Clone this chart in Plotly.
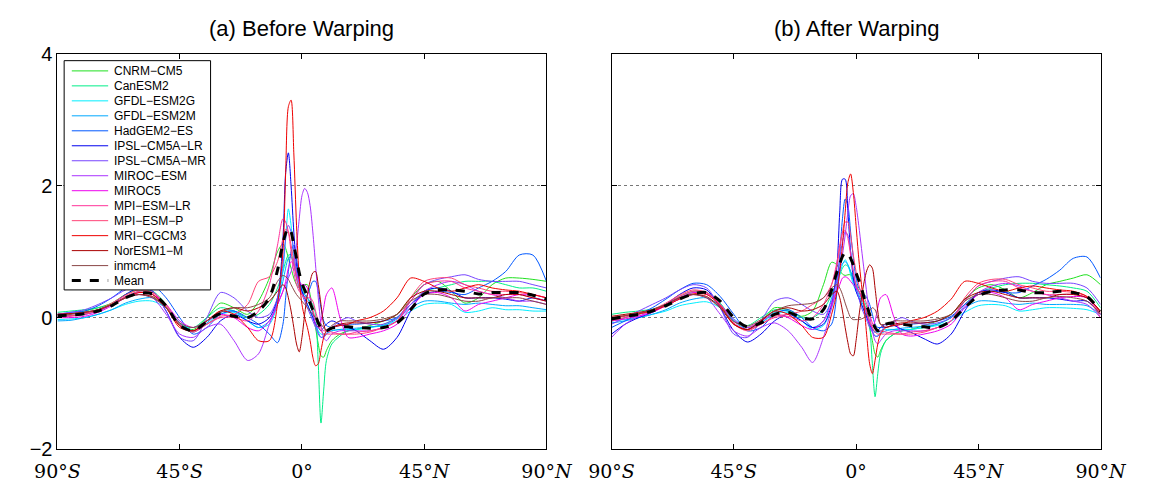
import plotly.graph_objects as go

# latitude grid (degrees)
lat = [-90, -85, -80, -75, -70, -65, -60, -55, -50, -45, -40, -35, -30, -25, -20,
       -16, -12, -9, -7, -6, -5, -4, -3, -2, -1, 0, 1, 2, 3, 4, 5, 6, 7, 8, 9, 11, 14, 17, 20,
       25, 30, 35, 40, 45, 50, 55, 60, 65, 70, 75, 80, 85, 90]

model_names = ["CNRM\u2212CM5", "CanESM2", "GFDL\u2212ESM2G", "GFDL\u2212ESM2M", "HadGEM2\u2212ES",
               "IPSL\u2212CM5A\u2212LR", "IPSL\u2212CM5A\u2212MR", "MIROC\u2212ESM", "MIROC5",
               "MPI\u2212ESM\u2212LR", "MPI\u2212ESM\u2212P", "MRI\u2212CGCM3", "NorESM1\u2212M", "inmcm4"]
model_colors = ["#1fe01f", "#00ee88", "#00eeff", "#00a8ff", "#0058ff", "#0000ee", "#7744ff",
                "#aa33ff", "#ee00ee", "#ff3399", "#ff4477", "#ee0000", "#aa0000", "#8a4646"]

# ---------------- (a) Before warping ----------------
cnrm_b = [0.05, 0.06, 0.10, 0.15, 0.22, 0.35, 0.42, 0.35, 0.15, -0.10, -0.18, 0.00, 0.22, 0.15, 0.05,
          0.25, 0.60, 1.00, 1.12, 1.05, 0.90, 0.75, 0.60, 0.50, 0.45, 0.45, 0.50, 0.50, 0.35, 0.10, -0.15, -0.40, -0.58, -0.60, -0.50, -0.35, -0.25, -0.20, -0.18,
          -0.12, -0.05, 0.05, 0.30, 0.50, 0.55, 0.40, 0.22, 0.30, 0.50, 0.60, 0.60, 0.58, 0.55]
canesm_b = [0.08, 0.10, 0.12, 0.15, 0.20, 0.30, 0.40, 0.40, 0.20, -0.10, -0.15, 0.00, 0.15, 0.10, 0.00,
            0.05, 0.20, 0.45, 0.70, 0.85, 0.95, 0.95, 0.85, 0.70, 0.55, 0.45, 0.35, 0.30, 0.25, 0.20, 0.05, -0.70, -1.60, -1.10, -0.65, -0.40, -0.28, -0.20, -0.18,
            -0.15, -0.10, 0.00, 0.20, 0.40, 0.45, 0.50, 0.55, 0.55, 0.55, 0.50, 0.45, 0.45, 0.40]
gfdlg_b = [-0.03, -0.02, 0.00, 0.05, 0.12, 0.20, 0.25, 0.25, 0.15, -0.05, -0.20, -0.10, 0.05, 0.08, -0.05,
           -0.15, -0.10, 0.20, 0.70, 1.20, 1.65, 1.40, 0.90, 0.60, 0.45, 0.35, 0.30, 0.20, 0.10, 0.00, -0.10, -0.20, -0.25, -0.25, -0.22, -0.20, -0.18, -0.18, -0.18,
           -0.15, -0.12, -0.05, 0.10, 0.20, 0.22, 0.20, 0.08, 0.10, 0.15, 0.12, 0.12, 0.10, 0.10]
gfdlm_b = [-0.05, -0.04, 0.00, 0.05, 0.12, 0.22, 0.28, 0.30, 0.15, -0.08, -0.22, -0.08, 0.08, 0.10, -0.05,
           -0.15, -0.05, 0.25, 0.55, 0.75, 0.90, 0.92, 0.80, 0.60, 0.45, 0.40, 0.35, 0.30, 0.20, 0.05, -0.10, -0.22, -0.30, -0.28, -0.25, -0.20, -0.18, -0.17, -0.16,
           -0.14, -0.12, -0.02, 0.15, 0.25, 0.25, 0.22, 0.20, 0.22, 0.20, 0.18, 0.18, 0.15, 0.12]
hadgem_b = [0.05, 0.08, 0.10, 0.18, 0.30, 0.45, 0.55, 0.50, 0.30, 0.00, -0.25, -0.15, 0.05, 0.10, 0.00,
            -0.10, -0.25, -0.38, -0.10, 0.30, 0.70, 1.00, 1.10, 0.90, 0.60, 0.40, 0.30, 0.35, 0.45, 0.55, 0.55, 0.40, 0.15, -0.05, -0.12, -0.15, -0.12, -0.10, -0.10,
            -0.08, -0.05, 0.00, 0.20, 0.35, 0.40, 0.38, 0.35, 0.45, 0.55, 0.70, 0.95, 0.95, 0.55]
ipsllr_b = [0.02, 0.03, 0.05, 0.10, 0.20, 0.35, 0.45, 0.40, 0.10, -0.30, -0.45, -0.30, -0.05, 0.05, -0.05,
            -0.10, 0.00, 0.30, 1.20, 2.20, 2.50, 2.00, 1.30, 0.80, 0.55, 0.40, 0.30, 0.20, 0.10, 0.00, -0.10, -0.15, -0.20, -0.15, -0.10, -0.05, -0.10, -0.15, -0.20,
            -0.35, -0.48, -0.30, 0.10, 0.40, 0.45, 0.40, 0.30, 0.30, 0.30, 0.28, 0.25, 0.30, 0.25]
ipslmr_b = [0.05, 0.08, 0.12, 0.20, 0.30, 0.42, 0.48, 0.40, 0.10, -0.30, -0.35, 0.00, 0.38, 0.30, 0.10,
            0.00, 0.05, 0.30, 0.80, 1.20, 1.40, 1.30, 1.00, 0.70, 0.50, 0.35, 0.25, 0.15, 0.05, -0.05, -0.15, -0.25, -0.30, -0.30, -0.25, -0.15, -0.05, 0.00, -0.05,
            -0.10, -0.10, 0.00, 0.25, 0.50, 0.58, 0.62, 0.65, 0.58, 0.55, 0.55, 0.55, 0.50, 0.45]
mirocesm_b = [0.05, 0.06, 0.08, 0.12, 0.20, 0.30, 0.35, 0.30, 0.05, -0.25, -0.30, -0.15, -0.10, -0.35, -0.65,
              -0.55, -0.10, 0.20, 0.40, 0.50, 0.60, 0.70, 0.85, 1.10, 1.50, 1.85, 1.96, 1.90, 1.70, 1.30, 0.80, 0.30, -0.10, -0.30, -0.35, -0.25, -0.20, -0.20, -0.20,
              -0.20, -0.15, -0.05, 0.20, 0.40, 0.50, 0.55, 0.50, 0.40, 0.35, 0.30, 0.25, 0.25, 0.20]
miroc5_b = [0.00, 0.00, 0.02, 0.08, 0.18, 0.30, 0.38, 0.35, 0.20, -0.05, -0.15, -0.05, 0.05, 0.00, -0.15,
            -0.20, -0.05, 0.20, 0.40, 0.55, 0.75, 0.85, 0.80, 0.65, 0.55, 0.50, 0.50, 0.45, 0.30, 0.10, -0.10, -0.15, -0.05, 0.15, 0.35, 0.45, 0.00, -0.30, -0.30,
            -0.25, -0.20, -0.10, 0.15, 0.35, 0.38, 0.30, 0.10, 0.20, 0.25, 0.30, 0.35, 0.35, 0.30]
mpilr_b = [0.00, 0.02, 0.05, 0.10, 0.20, 0.32, 0.40, 0.38, 0.20, -0.10, -0.20, -0.10, 0.00, 0.00, -0.05,
           0.10, 0.50, 1.10, 1.50, 1.45, 1.30, 1.00, 0.70, 0.50, 0.40, 0.35, 0.30, 0.30, 0.30, 0.25, 0.10, -0.05, -0.15, -0.20, -0.20, -0.22, -0.25, -0.25, -0.22,
           -0.20, -0.15, -0.05, 0.25, 0.50, 0.55, 0.55, 0.45, 0.40, 0.35, 0.35, 0.35, 0.30, 0.25]
mpip_b = [0.02, 0.03, 0.06, 0.12, 0.22, 0.34, 0.42, 0.38, 0.18, -0.12, -0.22, -0.10, 0.02, 0.05, 0.20,
          0.55, 0.62, 0.85, 1.20, 1.34, 1.30, 1.10, 0.85, 0.60, 0.45, 0.35, 0.30, 0.25, 0.20, 0.10, 0.00, -0.10, -0.20, -0.25, -0.25, -0.25, -0.25, -0.25, -0.25,
          -0.22, -0.15, -0.05, 0.30, 0.55, 0.60, 0.60, 0.50, 0.45, 0.40, 0.40, 0.38, 0.35, 0.30]
mri_b = [0.05, 0.06, 0.08, 0.12, 0.20, 0.30, 0.38, 0.35, 0.15, -0.15, -0.20, -0.05, 0.10, 0.05, -0.15,
         -0.35, -0.35, 0.20, 1.00, 2.20, 3.20, 3.30, 2.50, 1.40, 0.60, 0.20, 0.00, -0.15, -0.35, -0.60, -0.73, -0.70, -0.50, -0.30, -0.20, -0.15, -0.12, -0.10, -0.05,
         0.00, 0.10, 0.30, 0.60, 0.55, 0.45, 0.40, 0.45, 0.50, 0.45, 0.42, 0.40, 0.35, 0.30]
noresm_b = [0.05, 0.06, 0.08, 0.12, 0.20, 0.30, 0.35, 0.32, 0.15, -0.12, -0.20, -0.05, 0.10, 0.15, 0.10,
            0.15, 0.25, 0.40, 0.50, 0.45, 0.30, 0.10, -0.15, -0.40, -0.52, -0.30, 0.05, 0.35, 0.55, 0.68, 0.70, 0.50, 0.20, -0.10, -0.20, -0.15, -0.10, -0.08, -0.08,
            -0.08, -0.05, 0.05, 0.30, 0.40, 0.40, 0.35, 0.30, 0.30, 0.30, 0.35, 0.35, 0.30, 0.25]
inmcm_b = [0.03, 0.05, 0.08, 0.12, 0.20, 0.30, 0.35, 0.30, 0.15, -0.08, -0.15, -0.05, 0.08, 0.15, 0.15,
           0.20, 0.30, 0.55, 0.64, 0.62, 0.58, 0.50, 0.42, 0.35, 0.30, 0.25, 0.20, 0.15, 0.10, 0.05, 0.00, -0.05, -0.10, -0.15, -0.20, -0.12, -0.05, -0.05, -0.05,
           -0.05, -0.02, 0.05, 0.25, 0.35, 0.35, 0.30, 0.25, 0.25, 0.30, 0.30, 0.30, 0.25, 0.20]
mean_b = [0.03, 0.04, 0.06, 0.10, 0.18, 0.30, 0.37, 0.36, 0.18, -0.12, -0.20, -0.06, 0.06, 0.02, 0.00,
          0.10, 0.30, 0.72, 1.13, 1.28, 1.36, 1.30, 1.10, 0.90, 0.68, 0.52, 0.42, 0.32, 0.22, 0.12, 0.03, -0.08, -0.16, -0.20, -0.20, -0.16, -0.14, -0.14, -0.15,
          -0.16, -0.15, -0.08, 0.12, 0.36, 0.42, 0.42, 0.40, 0.36, 0.38, 0.38, 0.38, 0.34, 0.28]

# ---------------- (b) After warping ----------------
cnrm_a = [-0.05, 0.00, 0.05, 0.12, 0.20, 0.32, 0.40, 0.38, 0.20, -0.05, -0.15, -0.05, 0.15, 0.12, 0.02,
          0.10, 0.50, 0.84, 0.80, 0.72, 0.66, 0.64, 0.65, 0.65, 0.60, 0.50, 0.40, 0.30, 0.20, 0.05, -0.15, -0.35, -0.55, -0.60, -0.50, -0.35, -0.25, -0.20, -0.18,
          -0.12, -0.05, 0.05, 0.28, 0.45, 0.50, 0.42, 0.30, 0.38, 0.50, 0.55, 0.60, 0.65, 0.50]
canesm_a = [0.05, 0.08, 0.10, 0.13, 0.20, 0.30, 0.38, 0.38, 0.22, -0.05, -0.12, 0.00, 0.12, 0.10, 0.00,
            0.00, 0.12, 0.35, 0.55, 0.65, 0.75, 0.80, 0.78, 0.70, 0.60, 0.50, 0.40, 0.32, 0.25, 0.15, -0.10, -0.70, -1.20, -0.85, -0.55, -0.35, -0.25, -0.20, -0.18,
            -0.15, -0.10, 0.00, 0.20, 0.38, 0.45, 0.50, 0.52, 0.52, 0.50, 0.48, 0.45, 0.40, 0.15]
gfdlg_a = [-0.05, -0.03, 0.00, 0.05, 0.10, 0.18, 0.22, 0.24, 0.15, -0.02, -0.15, -0.08, 0.05, 0.08, -0.05,
           -0.18, -0.12, 0.15, 0.45, 0.65, 0.80, 0.88, 0.80, 0.65, 0.50, 0.40, 0.30, 0.20, 0.10, 0.00, -0.10, -0.18, -0.22, -0.22, -0.20, -0.18, -0.18, -0.18, -0.18,
           -0.15, -0.12, -0.05, 0.08, 0.18, 0.20, 0.18, 0.10, 0.12, 0.15, 0.15, 0.14, 0.12, 0.05]
gfdlm_a = [-0.08, -0.05, 0.00, 0.05, 0.12, 0.22, 0.28, 0.30, 0.18, -0.05, -0.18, -0.08, 0.08, 0.10, -0.05,
           -0.15, -0.05, 0.30, 0.60, 0.75, 0.82, 0.85, 0.80, 0.70, 0.55, 0.45, 0.35, 0.25, 0.15, 0.05, -0.08, -0.20, -0.28, -0.28, -0.25, -0.20, -0.18, -0.16, -0.15,
           -0.13, -0.10, 0.00, 0.15, 0.25, 0.25, 0.22, 0.20, 0.22, 0.20, 0.20, 0.20, 0.18, 0.05]
hadgem_a = [-0.15, -0.05, 0.05, 0.15, 0.28, 0.42, 0.52, 0.50, 0.32, 0.05, -0.20, -0.15, 0.05, 0.12, 0.00,
            -0.15, -0.20, -0.10, 0.40, 0.95, 1.50, 1.80, 1.70, 1.30, 0.90, 0.60, 0.45, 0.40, 0.35, 0.30, 0.20, 0.05, -0.10, -0.15, -0.15, -0.15, -0.12, -0.10, -0.10,
            -0.08, -0.05, 0.02, 0.20, 0.35, 0.40, 0.38, 0.38, 0.48, 0.58, 0.72, 0.90, 0.92, 0.60]
ipsllr_a = [-0.25, -0.10, 0.00, 0.08, 0.20, 0.35, 0.45, 0.42, 0.15, -0.20, -0.37, -0.25, -0.05, 0.05, -0.05,
            -0.15, -0.10, 0.20, 0.80, 1.60, 2.10, 2.10, 1.60, 1.00, 0.60, 0.40, 0.30, 0.20, 0.10, 0.00, -0.10, -0.18, -0.22, -0.20, -0.15, -0.10, -0.12, -0.18, -0.22,
            -0.32, -0.40, -0.25, 0.10, 0.38, 0.42, 0.38, 0.30, 0.30, 0.30, 0.28, 0.25, 0.25, 0.05]
ipslmr_a = [-0.10, 0.00, 0.10, 0.20, 0.30, 0.42, 0.50, 0.45, 0.15, -0.25, -0.30, -0.05, 0.25, 0.30, 0.20,
            0.10, 0.05, 0.25, 0.60, 0.90, 1.15, 1.30, 1.25, 1.00, 0.70, 0.45, 0.30, 0.15, 0.05, -0.05, -0.15, -0.22, -0.28, -0.28, -0.22, -0.12, -0.05, 0.00, -0.05,
            -0.10, -0.08, 0.00, 0.25, 0.48, 0.55, 0.60, 0.62, 0.55, 0.52, 0.52, 0.52, 0.45, 0.20]
mirocesm_a = [-0.30, -0.10, 0.02, 0.10, 0.18, 0.28, 0.35, 0.30, 0.05, -0.20, -0.28, -0.15, -0.08, -0.20, -0.45,
              -0.68, -0.30, 0.15, 0.50, 0.70, 0.95, 1.25, 1.60, 1.85, 1.88, 1.70, 1.40, 1.05, 0.70, 0.35, 0.05, -0.20, -0.35, -0.40, -0.35, -0.25, -0.20, -0.20, -0.20,
              -0.20, -0.15, -0.05, 0.18, 0.38, 0.48, 0.52, 0.48, 0.40, 0.35, 0.30, 0.25, 0.20, 0.00]
miroc5_a = [-0.05, -0.02, 0.02, 0.08, 0.18, 0.30, 0.38, 0.36, 0.20, -0.03, -0.15, -0.05, 0.05, 0.00, -0.12,
            -0.18, -0.05, 0.20, 0.40, 0.50, 0.60, 0.62, 0.60, 0.55, 0.50, 0.45, 0.40, 0.30, 0.20, 0.05, -0.10, -0.15, -0.05, 0.15, 0.30, 0.35, 0.00, -0.25, -0.28,
            -0.25, -0.20, -0.10, 0.15, 0.35, 0.38, 0.30, 0.12, 0.20, 0.25, 0.30, 0.32, 0.30, 0.05]
mpilr_a = [-0.05, 0.00, 0.05, 0.10, 0.20, 0.32, 0.40, 0.38, 0.20, -0.08, -0.18, -0.10, 0.00, 0.02, -0.05,
           0.00, 0.20, 0.50, 0.85, 1.10, 1.28, 1.32, 1.20, 0.95, 0.70, 0.50, 0.40, 0.35, 0.30, 0.20, 0.05, -0.08, -0.18, -0.20, -0.20, -0.22, -0.24, -0.25, -0.22,
           -0.20, -0.15, -0.05, 0.25, 0.48, 0.55, 0.55, 0.45, 0.40, 0.35, 0.35, 0.35, 0.30, 0.00]
mpip_a = [-0.02, 0.02, 0.06, 0.12, 0.22, 0.34, 0.42, 0.38, 0.18, -0.10, -0.20, -0.10, 0.02, 0.05, 0.10,
          0.20, 0.30, 0.50, 0.80, 1.05, 1.30, 1.45, 1.45, 1.25, 0.95, 0.70, 0.50, 0.35, 0.20, 0.08, -0.05, -0.15, -0.22, -0.25, -0.25, -0.25, -0.25, -0.25, -0.25,
          -0.22, -0.15, -0.05, 0.30, 0.52, 0.58, 0.58, 0.50, 0.45, 0.40, 0.40, 0.38, 0.32, 0.05]
mri_a = [0.00, 0.03, 0.06, 0.10, 0.18, 0.28, 0.36, 0.35, 0.18, -0.10, -0.18, -0.05, 0.10, 0.05, -0.12,
         -0.30, -0.30, 0.05, 0.40, 0.70, 1.10, 1.60, 2.05, 2.18, 1.90, 1.40, 0.90, 0.50, 0.15, -0.30, -0.70, -0.85, -0.65, -0.40, -0.25, -0.15, -0.12, -0.10, -0.05,
         0.00, 0.10, 0.28, 0.55, 0.52, 0.45, 0.40, 0.45, 0.48, 0.45, 0.42, 0.40, 0.32, 0.08]
noresm_a = [0.02, 0.05, 0.08, 0.12, 0.20, 0.30, 0.35, 0.32, 0.15, -0.10, -0.18, -0.05, 0.10, 0.15, 0.10,
            0.12, 0.20, 0.35, 0.40, 0.30, 0.10, -0.15, -0.38, -0.55, -0.58, -0.35, 0.00, 0.30, 0.55, 0.72, 0.80, 0.75, 0.45, 0.10, -0.10, -0.15, -0.10, -0.08, -0.08,
            -0.08, -0.05, 0.05, 0.28, 0.38, 0.40, 0.35, 0.30, 0.30, 0.30, 0.35, 0.35, 0.30, 0.10]
inmcm_a = [0.00, 0.03, 0.07, 0.12, 0.20, 0.30, 0.35, 0.30, 0.15, -0.06, -0.13, -0.03, 0.10, 0.18, 0.20,
           0.22, 0.30, 0.45, 0.50, 0.45, 0.35, 0.22, 0.10, 0.00, -0.03, -0.03, -0.03, -0.02, 0.00, 0.05, 0.10, 0.15, 0.12, 0.00, -0.10, -0.10, -0.05, -0.05, -0.05,
           -0.05, -0.02, 0.05, 0.25, 0.35, 0.35, 0.30, 0.25, 0.25, 0.30, 0.32, 0.30, 0.25, 0.05]
mean_a = [-0.02, 0.02, 0.05, 0.10, 0.18, 0.28, 0.36, 0.38, 0.25, 0.00, -0.14, -0.08, 0.05, 0.08, 0.00,
          -0.02, 0.12, 0.42, 0.70, 0.82, 0.93, 0.99, 0.97, 0.90, 0.80, 0.68, 0.57, 0.45, 0.30, 0.18, 0.05, -0.05, -0.15, -0.20, -0.18, -0.10, -0.08, -0.10, -0.12,
          -0.14, -0.15, -0.05, 0.15, 0.33, 0.40, 0.42, 0.42, 0.38, 0.38, 0.40, 0.38, 0.32, 0.10]

before_series = [cnrm_b, canesm_b, gfdlg_b, gfdlm_b, hadgem_b, ipsllr_b, ipslmr_b, mirocesm_b,
                 miroc5_b, mpilr_b, mpip_b, mri_b, noresm_b, inmcm_b]
after_series = [cnrm_a, canesm_a, gfdlg_a, gfdlm_a, hadgem_a, ipsllr_a, ipslmr_a, mirocesm_a,
                miroc5_a, mpilr_a, mpip_a, mri_a, noresm_a, inmcm_a]

xtick_vals = [-90, -45, 0, 45, 90]
xtick_text = ["90°<i>S</i>", "45°<i>S</i>", "0°", "45°<i>N</i>", "90°<i>N</i>"]
ytick_vals = [-2, 0, 2, 4]
ytick_text = ["\u22122", "0", "2", "4"]

W, H = 1162, 491


def px(x):
    return x / W


def py(y):
    return (H - y) / H


fig = go.Figure()

for name, col, yb, ya in zip(model_names, model_colors, before_series, after_series):
    fig.add_trace(go.Scatter(x=lat, y=yb, mode="lines", name=name,
                             line=dict(color=col, width=1, shape="spline", smoothing=0.8),
                             xaxis="x", yaxis="y"))
    fig.add_trace(go.Scatter(x=lat, y=ya, mode="lines", name=name,
                             line=dict(color=col, width=1, shape="spline", smoothing=0.8),
                             xaxis="x2", yaxis="y2"))

fig.add_trace(go.Scatter(x=lat, y=mean_b, mode="lines", name="Mean",
                         line=dict(color="black", width=3, dash="dash", shape="spline", smoothing=0.8),
                         xaxis="x", yaxis="y"))
fig.add_trace(go.Scatter(x=lat, y=mean_a, mode="lines", name="Mean",
                         line=dict(color="black", width=3, dash="dash", shape="spline", smoothing=0.8),
                         xaxis="x2", yaxis="y2"))

xd1 = [px(36), px(547)]
xd2 = [px(615), px(1126)]
yd = [py(459), py(45)]

xaxis_common = dict(range=[-90, 90], tickvals=xtick_vals, ticktext=xtick_text,
                    showline=True, linecolor="black", linewidth=1, mirror="ticks",
                    ticks="inside", ticklen=5, tickcolor="black", showgrid=False, zeroline=False,
                    ticklabelstandoff=5,
                    tickfont=dict(family="DejaVu Serif, Liberation Serif, serif", size=19, color="black"))
yaxis_common = dict(range=[-2, 4], tickvals=ytick_vals, showline=True, linecolor="black", linewidth=1,
                    mirror="ticks", ticks="inside", ticklen=5, tickcolor="black",
                    showgrid=True, gridcolor="#777777", griddash="dot", gridwidth=1, zeroline=False,
                    tickfont=dict(family="Liberation Sans, Arial, sans-serif", size=20, color="black"))

# legend drawn as a boxed key in the top-left of panel (a)
shapes = [dict(type="rect", xref="paper", yref="paper", x0=px(43), x1=px(196), y0=py(292), y1=py(52),
               line=dict(color="black", width=1), fillcolor="white", layer="above")]
annotations = []
legend_labels = model_names + ["Mean"]
legend_colors = model_colors + ["black"]
for i, (lab, col) in enumerate(zip(legend_labels, legend_colors)):
    yy = 62.7 + i * 15.68
    is_mean = lab == "Mean"
    shapes.append(dict(type="line", xref="paper", yref="paper", x0=px(51), x1=px(89), y0=py(yy), y1=py(yy),
                       line=dict(color=col, width=3 if is_mean else 1, dash="dash" if is_mean else "solid"),
                       layer="above"))
    annotations.append(dict(text=lab, x=px(93), y=py(yy), xref="paper", yref="paper", showarrow=False,
                            xanchor="left", yanchor="middle",
                            font=dict(family="Liberation Sans, Arial, sans-serif", size=12, color="black")))

annotations += [
    dict(text="(a) Before Warping", x=(xd1[0] + xd1[1]) / 2, y=py(18), xref="paper", yref="paper",
         showarrow=False, xanchor="center", yanchor="middle",
         font=dict(family="Liberation Sans, Arial, sans-serif", size=22, color="black")),
    dict(text="(b) After Warping", x=(xd2[0] + xd2[1]) / 2, y=py(18), xref="paper", yref="paper",
         showarrow=False, xanchor="center", yanchor="middle",
         font=dict(family="Liberation Sans, Arial, sans-serif", size=22, color="black")),
]

fig.update_layout(
    width=W, height=H,
    margin=dict(l=0, r=0, t=0, b=0),
    paper_bgcolor="white", plot_bgcolor="white",
    xaxis=dict(domain=xd1, anchor="y", **xaxis_common),
    yaxis=dict(domain=yd, anchor="x", ticktext=ytick_text, **yaxis_common),
    xaxis2=dict(domain=xd2, anchor="y2", **xaxis_common),
    yaxis2=dict(domain=yd, anchor="x2", showticklabels=False, **yaxis_common),
    showlegend=False,
    shapes=shapes,
    annotations=annotations,
)

fig.write_html("out.html")
